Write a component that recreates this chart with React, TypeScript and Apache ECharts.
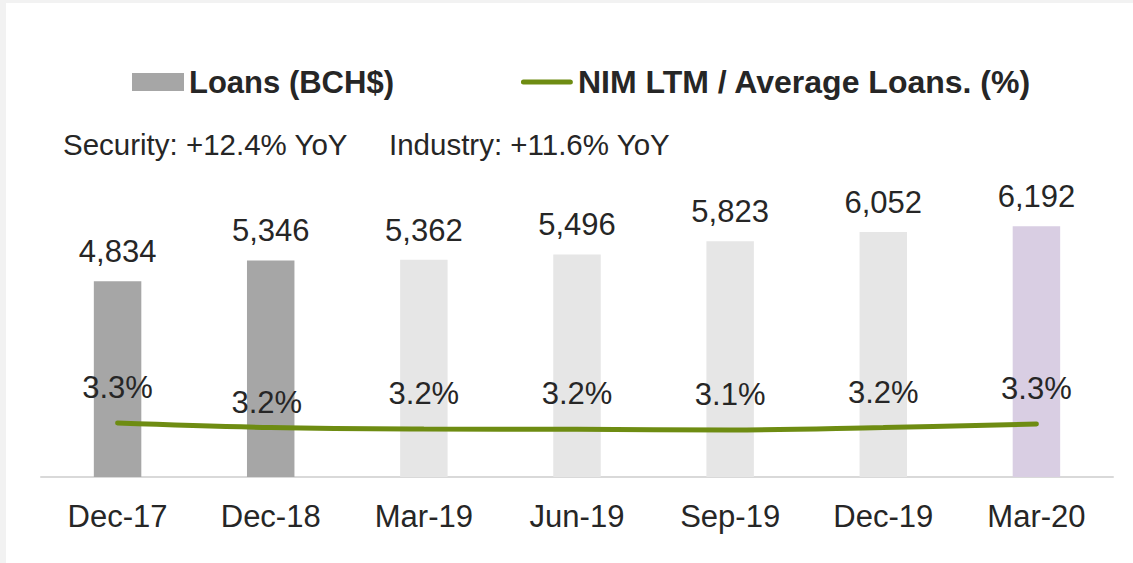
import React, { useEffect, useRef } from "react";
import * as echarts from "echarts";

const categories = ["Dec-17", "Dec-18", "Mar-19", "Jun-19", "Sep-19", "Dec-19", "Mar-20"];
const loans = [4834, 5346, 5362, 5496, 5823, 6052, 6192];
const nim = [3.28, 3.19, 3.16, 3.155, 3.14, 3.19, 3.26];
const barColors = ["#a6a6a6", "#a6a6a6", "#e6e6e6", "#e6e6e6", "#e6e6e6", "#e6e6e6", "#d9cee3"];
const nimLabelOffsets = [[0, 0], [-4, 10], [0, 0], [0, 0], [0, 0], [0, 0], [0, 0]];

const FONT = "Liberation Sans, Arial, sans-serif";
const TXT = "#262626";
const GREEN = "#6e8c12";
const LINE_ICON = "path://M0,0L0.01,0M52,18L51.99,18M2.5,6.5L49.5,6.5A2.5,2.5,0,0,1,49.5,11.5L2.5,11.5A2.5,2.5,0,0,1,2.5,6.5Z";
const LOANS_NAME = "Loans (BCH$)";
const NIM_NAME = "NIM LTM / Average Loans. (%)";

export default function App() {
  const ref = useRef<HTMLDivElement>(null);
  useEffect(() => {
    if (!ref.current) return;
    const chart = echarts.init(ref.current, undefined, { renderer: "svg" });
    chart.setOption({
      animation: false,
      backgroundColor: "#ffffff",
      textStyle: { fontFamily: FONT, color: TXT },
      title: [
        {
          text: "Security: +12.4% YoY",
          left: 52,
          top: 121,
          textStyle: { fontFamily: FONT, fontSize: 29.5, fontWeight: "normal", color: TXT },
        },
        {
          text: "Industry: +11.6% YoY",
          left: 378,
          top: 121,
          textStyle: { fontFamily: FONT, fontSize: 29.5, fontWeight: "normal", color: TXT },
        },
      ],
      legend: {
        left: 121,
        top: 58,
        itemWidth: 52,
        itemHeight: 18,
        itemGap: 127,
        formatter: (name: string) => (name === NIM_NAME ? "{b|" + name + "}" : "{a|" + name + "}"),
        textStyle: {
          fontFamily: FONT,
          fontSize: 31,
          fontWeight: "bold",
          color: TXT,
          rich: {
            a: { fontFamily: FONT, fontSize: 31, fontWeight: "bold", color: TXT },
            b: { fontFamily: FONT, fontSize: 32, fontWeight: "bold", color: TXT },
          },
        },
        data: [
          { name: LOANS_NAME, icon: "rect", itemStyle: { color: "#a6a6a6" } },
          { name: NIM_NAME, icon: LINE_ICON, itemStyle: { color: GREEN } },
        ],
      },
      grid: { left: 35, right: 20, top: 69, bottom: 86 },
      xAxis: {
        type: "category",
        data: categories,
        axisTick: { show: false },
        axisLine: { lineStyle: { color: "#d9d9d9", width: 2 } },
        axisLabel: { margin: 24, fontSize: 31, color: TXT, fontFamily: FONT },
      },
      yAxis: [
        { type: "value", min: 0, max: 10000, show: false },
        { type: "value", min: 2.2, max: 10.3, show: false },
      ],
      series: [
        {
          name: LOANS_NAME,
          type: "bar",
          barWidth: "31%",
          data: loans.map((v, i) => ({ value: v, itemStyle: { color: barColors[i] } })),
          label: {
            show: true,
            position: "top",
            distance: 14,
            fontSize: 31,
            color: TXT,
            fontFamily: FONT,
            formatter: (p: any) => Number(p.value).toLocaleString("en-US"),
          },
        },
        {
          name: NIM_NAME,
          type: "line",
          yAxisIndex: 1,
          smooth: 0.4,
          symbol: "circle",
          symbolSize: 0,
          showSymbol: true,
          lineStyle: { color: GREEN, width: 5, cap: "round" },
          itemStyle: { color: GREEN },
          data: nim.map((v, i) => ({
            value: v,
            label: { offset: nimLabelOffsets[i] },
          })),
          label: {
            show: true,
            position: "top",
            distance: 20,
            fontSize: 31,
            color: TXT,
            fontFamily: FONT,
            formatter: (p: any) => (Math.round(Number(p.value) * 10) / 10).toFixed(1) + "%",
          },
          z: 3,
        },
      ],
    });
    return () => chart.dispose();
  }, []);
  return (
    <div style={{ position: "fixed", left: 0, top: 0, width: 1133, height: 563, background: "#f2f2f2" }}>
      <div ref={ref} style={{ position: "absolute", left: 6, top: 3, width: 1127, height: 560 }} />
    </div>
  );
}
